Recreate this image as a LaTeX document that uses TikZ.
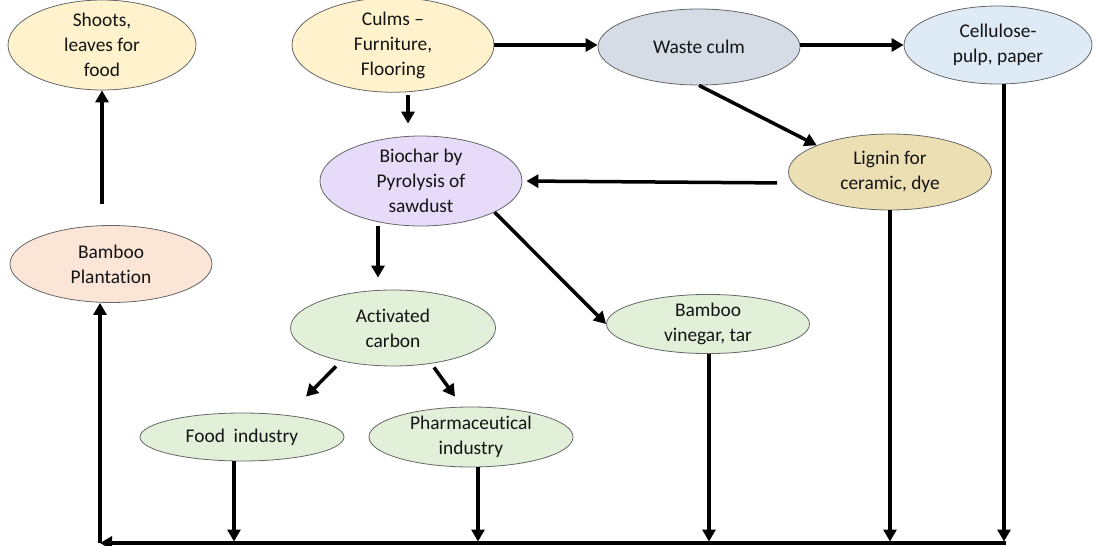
\documentclass[tikz,border=0pt]{standalone}
\usepackage{fontspec}
\setmainfont{Carlito}[Ligatures=NoCommon]
\usepackage{xcolor}
\usepackage{tikz}
\usetikzlibrary{arrows.meta,positioning,calc,shapes.geometric}
\definecolor{cream}{HTML}{FFF2CC}
\definecolor{slate}{HTML}{D6DCE5}
\definecolor{skyish}{HTML}{DEEBF7}
\definecolor{lilac}{HTML}{E6DCFA}
\definecolor{sand}{HTML}{ECDFB4}
\definecolor{peach}{HTML}{FBE5D6}
\definecolor{mint}{HTML}{E2F0D9}

\begin{document}
\begin{tikzpicture}[x=1pt,y=-1pt,>={Triangle[length=12pt,width=13pt]},
  blob/.style={ellipse,draw=black!60,line width=0.8pt,align=center,inner sep=0pt,
    text=black!92,font=\fontsize{19.4}{25}\selectfont},
  flow/.style={->,line width=3.5pt}]
\useasboundingbox (0,0) rectangle (1098,546);
% top row
\node[blob,fill=cream,minimum width=188pt,minimum height=78pt] (shoots) at (102,45) {Shoots,\\leaves for\\food};
\node[blob,fill=cream,minimum width=202pt,minimum height=78pt] (culms) at (393,45) {Culms --\\Furniture,\\Flooring};
\node[blob,fill=slate,minimum width=202pt,minimum height=76pt] (waste) at (699,47) {Waste culm};
\node[blob,fill=skyish,minimum width=188pt,minimum height=78pt] (cellulose) at (998,45) {Cellulose-\\pulp, paper};
% middle
\node[blob,fill=lilac,minimum width=202pt,minimum height=78pt] (biochar) at (421,181) {Biochar by\\Pyrolysis of\\sawdust};
\node[blob,fill=sand,minimum width=203pt,minimum height=76pt] (lignin) at (890,172) {Lignin for\\ceramic, dye};
\node[blob,fill=peach,minimum width=202pt,minimum height=77pt] (plantation) at (111,264) {Bamboo\\Plantation};
\node[blob,fill=mint,minimum width=205pt,minimum height=76pt] (activated) at (393,328) {Activated\\carbon};
\node[blob,fill=mint,minimum width=203pt,minimum height=56pt] (vinegar) at (708,324) {Bamboo\\vinegar, tar};
% bottom
\node[blob,fill=mint,minimum width=204pt,minimum height=48pt] (food) at (242,437) {Food\ \ industry};
\node[blob,fill=mint,minimum width=204pt,minimum height=60pt] (pharma) at (471,437) {Pharmaceutical\\industry};

\coordinate (busL) at (100,543);
\coordinate (busR) at (1004,543);

% arrows
\draw[flow] (culms.east) -- (culms.east -| waste.west);
\draw[flow] (culms.east -| waste.east) -- (culms.east -| cellulose.west);
\draw[flow,shorten <=2pt,shorten >=12pt] ([xshift=15pt]culms.south) -- ([xshift=-13pt]biochar.north);
\draw[flow] (waste.south) -- (lignin.160);
\draw[flow,shorten <=11pt,shorten >=4pt] ([yshift=-11pt]lignin.west) -- (biochar.east);
\draw[flow,shorten >=12pt] ([xshift=-43pt]biochar.south) -- ([xshift=-15pt]activated.north);
\draw[flow] (biochar.-23) -- (vinegar.west);
\draw[flow] ($(activated.south)+(-57,0)$) -- ($(food.north)+(64,-16)$);
\draw[flow] ($(activated.south)+(41,1)$) -- ($(pharma.north)+(-16,-10)$);
\draw[flow] ($(plantation.north)+(-9,-21)$) -- (shoots.south);

% return line
\foreach \n/\dx in {food/-8,pharma/7,vinegar/1,lignin/0,cellulose/6}
  \draw[flow,shorten >=1.5pt] ([xshift=\dx pt]\n.south) coordinate (top) -- (top |- busL);
\draw[flow,line cap=rect] (busR) -- (busL);
\draw[flow] (busL) -- (busL |- plantation.south);
\end{tikzpicture}
\end{document}
